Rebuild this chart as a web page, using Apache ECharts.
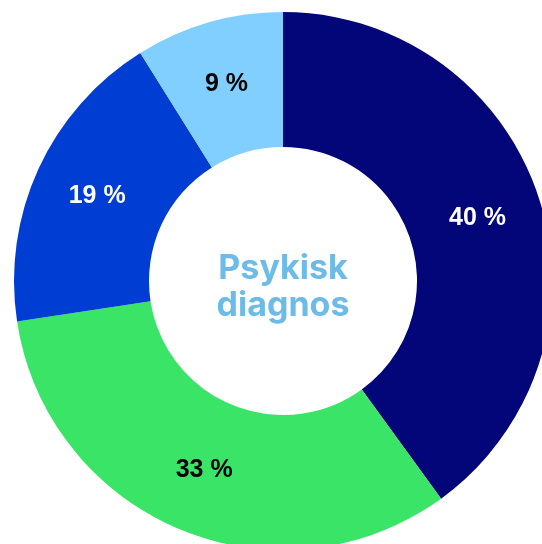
<!DOCTYPE html>
<html>
<head>
<meta charset="utf-8">
<script src="https://cdn.jsdelivr.net/npm/echarts@6/dist/echarts.min.js"></script>
<style>
html,body{margin:0;padding:0;background:#fff;}
#chart{width:542px;height:544px;}
</style>
</head>
<body>
<div id="chart"></div>
<script>
var categories = ['Kategori 1', 'Kategori 2', 'Kategori 3', 'Kategori 4'];
var values = [40, 32.6, 18.5, 8.9];
var labels = ['40 %', '33 %', '19 %', '9 %'];
var colors = ['#020679', '#3ae467', '#003dd3', '#80cfff'];
var labelColors = ['#ffffff', '#000000', '#ffffff', '#000000'];
var centerText = 'Psykisk\ndiagnos';

var chart = echarts.init(document.getElementById('chart'));
var data = categories.map(function (c, i) {
  return {
    name: c,
    value: values[i],
    itemStyle: { color: colors[i] },
    label: { color: labelColors[i] }
  };
});
chart.setOption({
  animation: false,
  series: [{
    type: 'pie',
    center: [283, 281],
    radius: [134, 269],
    startAngle: 90,
    clockwise: true,
    avoidLabelOverlap: false,
    data: data,
    label: {
      show: true,
      position: 'inside',
      fontFamily: 'Liberation Sans, Arial, sans-serif',
      fontWeight: 'bold',
      fontSize: 25,
      formatter: function (p) { return labels[p.dataIndex]; }
    },
    labelLine: { show: false },
    emphasis: { disabled: true }
  }],
  graphic: [{
    type: 'text',
    style: {
      text: centerText,
      x: 283,
      y: 287,
      textAlign: 'center',
      textVerticalAlign: 'middle',
      fontFamily: 'Inter, Roboto, sans-serif',
      fontWeight: 'bold',
      fontSize: 34,
      lineHeight: 37,
      fill: '#6cbbe9'
    }
  }]
});
</script>
</body>
</html>
